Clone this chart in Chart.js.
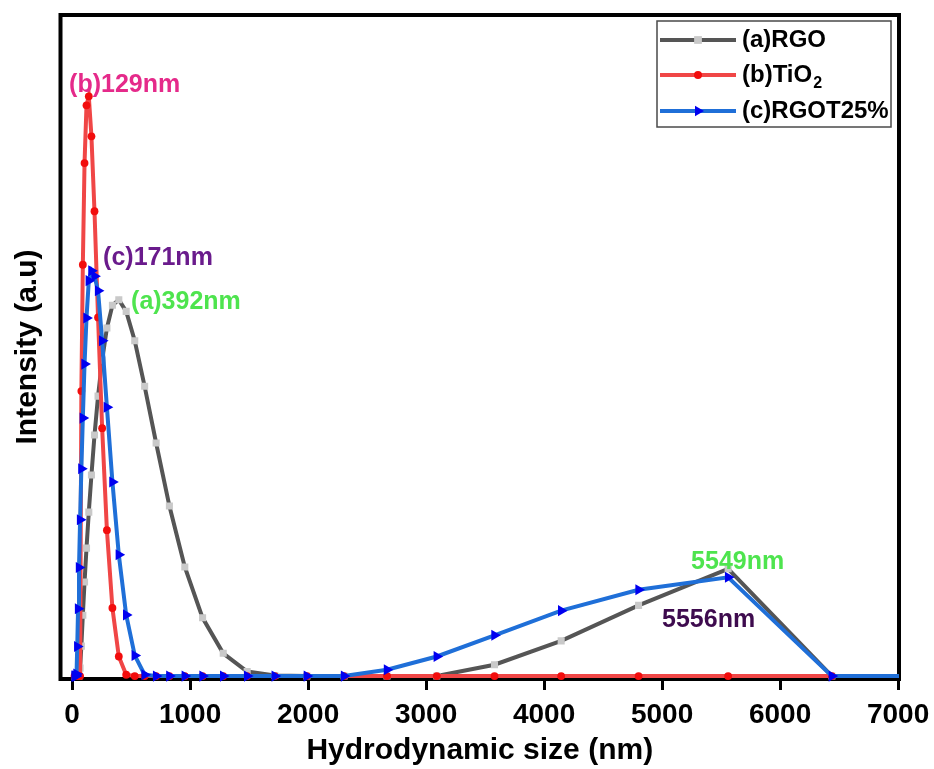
<!DOCTYPE html>
<html>
<head>
<meta charset="utf-8">
<script src="https://cdn.jsdelivr.net/npm/chart.js@4.4.1/dist/chart.umd.min.js"></script>
<style>
html,body{margin:0;padding:0;background:#ffffff;}
#wrap{width:934px;height:769px;position:relative;}
</style>
</head>
<body>
<div id="wrap"><canvas id="c" width="934" height="769"></canvas></div>
<script>
// ---- data (Malvern size bins, nm) ----
const sizes = [21.04, 24.36, 28.21, 32.67, 37.84, 43.82, 50.75, 58.77, 68.06, 78.82,
  91.28, 105.7, 122.4, 141.8, 164.2, 190.1, 220.2, 255.0, 295.3, 342.0,
  396.1, 458.7, 531.2, 615.1, 712.4, 825.0, 955.4, 1106, 1281, 1484,
  1718, 1990, 2305, 2669, 3091, 3580, 4145, 4801, 5560, 6439, 7456];

const rgo = [0, 0, 0, 0, 0, 0, 0, 0, 0.30, 1.13,
  2.30, 3.55, 4.83, 6.19, 7.59, 9.10, 10.57, 11.93, 13.14, 14.00,
  14.21, 13.77, 12.66, 10.94, 8.80, 6.42, 4.12, 2.20, 0.86, 0.17,
  0.02, 0, 0, 0, 0, 0.43, 1.33, 2.67, 4.05, 0, 0];

const tio2 = [0, 0, 0, 0, 0, 0, 0, 0, 0, 10.76,
  15.53, 19.37, 21.55, 21.89, 20.38, 17.55, 13.54, 9.36, 5.51, 2.57,
  0.74, 0.05, 0, 0, 0, 0, 0, 0, 0, 0,
  0, 0, 0, 0, 0, 0, 0, 0, 0, 0, 0];

const rgot = [0, 0, 0, 0, 0.08, 1.12, 2.54, 4.10, 5.90, 7.83,
  9.74, 11.78, 13.52, 14.93, 15.30, 15.10, 14.55, 12.66, 10.15, 7.33,
  4.58, 2.31, 0.78, 0.05, 0, 0, 0, 0, 0, 0,
  0, 0, 0, 0.24, 0.74, 1.54, 2.47, 3.26, 3.73, 0, 0];

const xTickValues = [0, 1000, 2000, 3000, 4000, 5000, 6000, 7000];
const seriesNames = ["(a)RGO", "(b)TiO\u2082", "(c)RGOT25%"];

const peakTexts = ["(b)129nm", "(c)171nm", "(a)392nm", "5549nm", "5556nm"];
const peakTextX = [-25, 263, 500, 5246, 5000];
const peakTextY = [22.32, 15.79, 14.12, 4.31, 2.11];

// ---- styles ----
const FONT = "'Liberation Sans', Arial, Helvetica, sans-serif";
const peakColors = ["#e52a8a", "#6a1b8c", "#4ee44e", "#4ee44e", "#3e0b4e"];

function pts(vals){ return sizes.map((s,i)=>({x:s, y:vals[i]})); }

const datasets = [
  {label: seriesNames[0], data: pts(rgo), borderColor:'#555555', backgroundColor:'#c9c9c9',
   pointBackgroundColor:'#c9c9c9', pointBorderColor:'#c9c9c9', pointStyle:'rect', pointRadius:5,
   pointBorderWidth:0, pointRotation:0, borderWidth:4, order:3},
  {label: seriesNames[1], data: pts(tio2), borderColor:'#f04646', backgroundColor:'#f20d0d',
   pointBackgroundColor:'#f20d0d', pointBorderColor:'#f20d0d', pointStyle:'circle', pointRadius:3.9,
   pointBorderWidth:0, pointRotation:0, borderWidth:4, order:2},
  {label: seriesNames[2], data: pts(rgot), borderColor:'#1f6fd8', backgroundColor:'#0000f0',
   pointBackgroundColor:'#0000f0', pointBorderColor:'#0000f0', pointStyle:'triangle', pointRadius:6.4,
   pointBorderWidth:0, pointRotation:90, borderWidth:4, order:1}
];
datasets.forEach(d=>{ d.tension=0; d.fill=false; d.clip={left:0,right:0,top:false,bottom:false}; });

function marker(ctx, style, x, y, r, color){
  ctx.save();
  ctx.fillStyle = color;
  ctx.beginPath();
  if (style==='rect'){ const s=Math.SQRT1_2*r; ctx.rect(x-s,y-s,2*s,2*s); }
  else if (style==='circle'){ ctx.arc(x,y,r,0,Math.PI*2); }
  else {
    ctx.moveTo(x + r, y);
    ctx.lineTo(x - r*0.5, y - r*0.866);
    ctx.lineTo(x - r*0.5, y + r*0.866);
    ctx.closePath();
  }
  ctx.fill();
  ctx.restore();
}

const framePlugin = {
  id:'frame',
  beforeDatasetsDraw(chart){
    const {ctx, chartArea:a} = chart;
    ctx.save();
    ctx.strokeStyle='#000'; ctx.lineWidth=4;
    ctx.strokeRect(a.left, a.top, a.right-a.left, a.bottom-a.top);
    ctx.restore();
  }
};

const labelPlugin = {
  id:'peaklabels',
  afterDatasetsDraw(chart){
    const {ctx, scales} = chart;
    ctx.save();
    ctx.font = "bold 25px " + FONT;
    ctx.textAlign='left'; ctx.textBaseline='middle';
    peakTexts.forEach((t,i)=>{
      ctx.fillStyle = peakColors[i];
      ctx.fillText(t, scales.x.getPixelForValue(peakTextX[i]), scales.y.getPixelForValue(peakTextY[i]));
    });
    ctx.restore();
  }
};

const legendPlugin = {
  id:'boxlegend',
  afterDraw(chart){
    const ctx = chart.ctx;
    const bx=657, by=21, bw=234, bh=106;
    ctx.save();
    ctx.fillStyle='#fff'; ctx.fillRect(bx,by,bw,bh);
    ctx.strokeStyle='#4a4a4a'; ctx.lineWidth=1.5; ctx.strokeRect(bx,by,bw,bh);
    const rows=[40, 75, 111];
    chart.data.datasets.forEach((d,i)=>{
      const y=rows[i];
      ctx.strokeStyle=d.borderColor; ctx.lineWidth=4;
      ctx.beginPath(); ctx.moveTo(660,y); ctx.lineTo(736,y); ctx.stroke();
      marker(ctx, d.pointStyle, 698, y, d.pointStyle==='triangle'?6:(d.pointStyle==='rect'?5.5:4), d.pointBackgroundColor);
      ctx.fillStyle='#000'; ctx.textAlign='left'; ctx.textBaseline='middle';
      ctx.font="bold 24px " + FONT;
      const lab=d.label;
      const k=lab.indexOf('\u2082');
      if (k>=0){
        const pre=lab.slice(0,k);
        ctx.fillText(pre, 742, y);
        const w=ctx.measureText(pre).width;
        ctx.font="bold 16px " + FONT;
        ctx.fillText('2', 742+w+1, y+9);
      } else {
        ctx.fillText(lab, 742, y);
      }
    });
    ctx.restore();
  }
};

new Chart(document.getElementById('c'), {
  type:'line',
  data:{datasets},
  options:{
    responsive:false,
    animation:false,
    events:[],
    layout:{padding:{top:15, right:35, left:0, bottom:0}},
    plugins:{legend:{display:false}, tooltip:{enabled:false}},
    scales:{
      x:{
        type:'linear', min:-98, max:7008,
        afterBuildTicks(scale){ scale.ticks = xTickValues.map(v=>({value:v})); },
        afterFit(scale){ scale.height = 90; scale.paddingLeft = 0; scale.paddingRight = 0; },
        grid:{display:true, drawOnChartArea:false, drawTicks:true, tickLength:11, tickWidth:3, tickColor:'#000'},
        border:{display:false},
        ticks:{color:'#000', font:{family:FONT, size:28, weight:'bold'}, padding:8, maxRotation:0, autoSkip:false,
               callback:(v)=>String(v)},
        title:{display:true, text:'Hydrodynamic size (nm)', color:'#000', font:{family:FONT, size:30, weight:'bold'}, padding:{top:0,bottom:0}}
      },
      y:{
        type:'linear', min:-0.11, max:24.96,
        afterFit(scale){ scale.width = 60.5; },
        grid:{display:false},
        border:{display:false},
        ticks:{display:false},
        title:{display:true, text:'Intensity (a.u)', color:'#000', font:{family:FONT, size:30, weight:'bold'}, padding:{top:10,bottom:0}}
      }
    }
  },
  plugins:[framePlugin, labelPlugin, legendPlugin]
});
</script>
</body>
</html>
